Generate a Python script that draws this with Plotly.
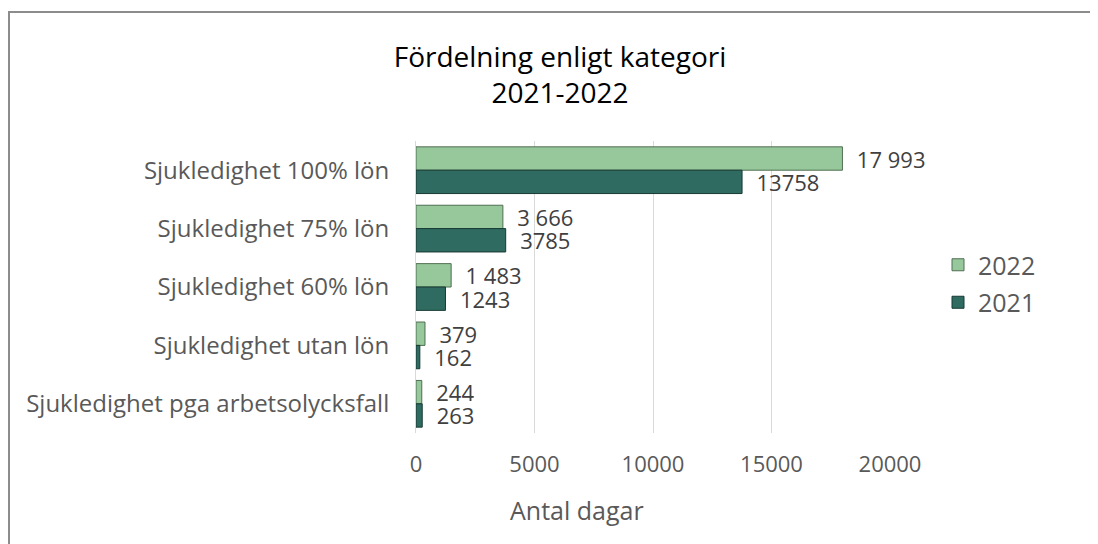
import plotly.graph_objects as go

categories = [
    "Sjukledighet 100% lön",
    "Sjukledighet 75% lön",
    "Sjukledighet 60% lön",
    "Sjukledighet utan lön",
    "Sjukledighet pga arbetsolycksfall",
]
values_2022 = [17993, 3666, 1483, 379, 244]
labels_2022 = ["17 993", "3 666", "1 483", "379", "244"]
values_2021 = [13758, 3785, 1243, 162, 263]
labels_2021 = ["13758", "3785", "1243", "162", "263"]
x_ticks = [0, 5000, 10000, 15000, 20000]

FONT = "Open Sans"
GRAY = "#595959"

fig = go.Figure()
fig.add_trace(go.Bar(
    name="2022", y=categories, x=values_2022, orientation="h",
    text=labels_2022, texttemplate="  %{text}", textposition="outside",
    textfont=dict(family=FONT, size=22, color="#404040"),
    marker=dict(color="#97c89c", line=dict(color="#4f6e52", width=1)),
    cliponaxis=False, constraintext="none", legendgroup="a",
))
fig.add_trace(go.Bar(
    name="2021", y=categories, x=values_2021, orientation="h",
    text=labels_2021, texttemplate="  %{text}", textposition="outside",
    textfont=dict(family=FONT, size=22, color="#404040"),
    marker=dict(color="#2f6b60", line=dict(color="#173a33", width=1)),
    cliponaxis=False, constraintext="none", legendgroup="b",
))

# page body has an 8px margin, so figure pixel = screen pixel - 8
W, H = 1090, 536
L, R, T, B = 408, 208, 133, 111
pw, ph = W - L - R, H - T - B

def px_x(x):
    return (x - L) / pw

def px_y(y):
    return 1 - (y - T) / ph

fig.update_layout(
    width=W, height=H,
    margin=dict(l=L, r=R, t=T, b=B),
    paper_bgcolor="white", plot_bgcolor="white",
    barmode="group", bargap=0.2, bargroupgap=0.0,
    font=dict(family=FONT, color=GRAY),
    title=dict(
        text="Fördelning enligt kategori<br>2021-2022",
        x=552 / W, xanchor="center", y=1 - 59 / H, yanchor="middle",
        font=dict(family=FONT, size=28, color="#000000"),
    ),
    xaxis=dict(
        range=[0, 20000], tickvals=x_ticks, ticktext=[str(v) for v in x_ticks],
        showgrid=True, gridcolor="#d9d9d9", gridwidth=1,
        zeroline=False, showline=False, ticks="",
        tickfont=dict(family=FONT, size=22, color=GRAY),
        ticklabelstandoff=16,
    ),
    yaxis=dict(
        autorange="reversed", showline=True, linecolor="#d9d9d9", linewidth=1,
        ticks="", tickfont=dict(family=FONT, size=24, color=GRAY),
        ticklabelstandoff=21,
    ),
    legend=dict(
        x=px_x(930), xanchor="left", y=px_y(234), yanchor="top",
        font=dict(family=FONT, size=25, color=GRAY),
        traceorder="grouped", tracegroupgap=2,
        bgcolor="rgba(0,0,0,0)",
    ),
    showlegend=True,
    annotations=[dict(
        text="Antal dagar", xref="paper", yref="paper",
        x=px_x(569), y=px_y(502), xanchor="center", yanchor="middle",
        showarrow=False, font=dict(family=FONT, size=25, color=GRAY),
    )],
    shapes=[dict(
        type="rect", xref="paper", yref="paper",
        x0=px_x(1), x1=px_x(1089), y0=px_y(560), y1=px_y(4),
        line=dict(color="#8c8c8c", width=2), fillcolor="rgba(0,0,0,0)", layer="above",
    )],
)

fig.write_html("out.html")
